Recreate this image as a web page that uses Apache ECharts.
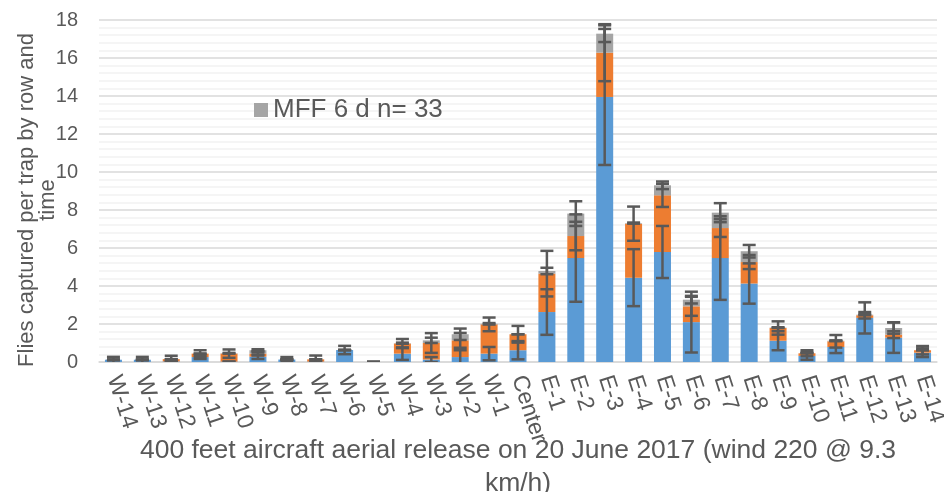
<!DOCTYPE html>
<html>
<head>
<meta charset="utf-8">
<script src="https://cdn.jsdelivr.net/npm/echarts@6/dist/echarts.min.js"></script>
<style>
  html, body { margin: 0; padding: 0; background: #fff; }
  #chart { width: 944px; height: 492px; }
</style>
</head>
<body>
<div id="chart"></div>
<script>
// trap rows, west to east
var categories = ['W-14','W-13','W-12','W-11','W-10','W-9','W-8','W-7','W-6','W-5','W-4','W-3','W-2','W-1','Center',
  'E-1','E-2','E-3','E-4','E-5','E-6','E-7','E-8','E-9','E-10','E-11','E-12','E-13','E-14'];

// stacked values (blue, orange, gray)
var blueVals   = [0.12,0.12,0.03,0.26,0.02,0.28,0.13,0.02,0.63,0,0.44,0.13,0.26,0.44,0.62,
  2.63,5.47,13.95,4.44,5.79,2.10,5.47,4.13,1.12,0.32,0.79,2.32,1.28,0.49];
var orangeVals = [0,0,0.12,0.18,0.42,0.16,0,0.12,0,0,0.53,0.87,0.88,1.54,0.84,
  2.02,1.16,2.33,2.84,2.98,0.83,1.58,1.13,0.67,0.14,0.30,0.14,0.16,0.13];
var grayVals   = [0,0,0,0,0.02,0.18,0,0,0,0,0.02,0.14,0.32,0.03,0,
  0.14,1.18,1.00,0.03,0.53,0.35,0.81,0.57,0.02,0,0.03,0.03,0.35,0];

// error bar half-widths for each series
var blueErr   = [0.15,0.15,0,0.10,0,0.12,0.13,0,0.22,0,0.33,0.13,0.36,0.35,0.48,
  1.20,2.30,3.58,1.50,1.37,1.60,2.20,1.06,0.50,0.20,0.32,0.82,0.80,0.23];
var orangeErr = [0,0,0.18,0.18,0.22,0.10,0,0.20,0,0,0.24,0.52,0.39,0.36,0.44,
  1.20,0.75,1.50,0.90,0.61,0.50,0.47,0.37,0.35,0.16,0.33,0.17,0.18,0.22];
var grayErr   = [0,0,0,0,0.02,0.05,0,0,0,0,0.03,0.14,0.30,0.04,0,
  0.17,0.65,0.44,0.03,0.20,0.20,0.50,0.33,0.02,0,0.02,0.03,0.30,0];

var textColor = '#595959';
var font = 'Liberation Sans, Arial, sans-serif';

// error bars sit on top of each stacked segment
function errData(level, errs) {
  return categories.map(function (c, i) {
    var top = blueVals[i];
    if (level > 0) top += orangeVals[i];
    if (level > 1) top += grayVals[i];
    return [i, top, errs[i]];
  });
}

function renderErr(params, api) {
  var i = api.value(0), c = api.value(1), e = api.value(2);
  var hi = api.coord([i, c + e]);
  var lo = api.coord([i, c - e]);
  var half = 6.5;
  var st = { stroke: '#595959', lineWidth: 2.5 };
  return {
    type: 'group',
    children: [
      { type: 'line', shape: { x1: hi[0], y1: hi[1], x2: lo[0], y2: lo[1] }, style: st },
      { type: 'line', shape: { x1: hi[0] - half, y1: hi[1], x2: hi[0] + half, y2: hi[1] }, style: st },
      { type: 'line', shape: { x1: lo[0] - half, y1: lo[1], x2: lo[0] + half, y2: lo[1] }, style: st }
    ]
  };
}

var chart = echarts.init(document.getElementById('chart'));

var option = {
  animation: false,
  textStyle: { fontFamily: font },
  grid: { left: 99, right: 7, top: 20, bottom: 130, outerBoundsMode: 'none', containLabel: false },
  legend: {
    data: ['MFF 6 d n= 33'],
    left: 249, top: 92,
    icon: 'rect', itemWidth: 14, itemHeight: 14, itemGap: 6,
    textStyle: { color: textColor, fontSize: 26, fontFamily: font }
  },
  xAxis: {
    type: 'category',
    data: categories,
    axisLine: { lineStyle: { color: '#D9D9D9', width: 1.5 } },
    axisTick: { show: false },
    axisLabel: { rotate: -72, margin: 14, color: textColor, fontSize: 23, interval: 0 },
    name: '400 feet aircraft aerial release on 20 June 2017 (wind 220 @ 9.3\nkm/h)',
    nameLocation: 'middle',
    nameMoveOverlap: false,
    nameGap: 72,
    nameTextStyle: { color: textColor, fontSize: 26.5, lineHeight: 33 }
  },
  yAxis: {
    type: 'value',
    min: 0, max: 18, interval: 2,
    axisLine: { show: false },
    axisTick: { show: false },
    axisLabel: { color: textColor, fontSize: 20, margin: 21 },
    splitLine: { lineStyle: { color: '#D9D9D9', width: 1.5 } },
    minorTick: { show: false, splitNumber: 5 },
    minorSplitLine: { show: true, lineStyle: { color: '#F2F2F2', width: 1.5 } },
    name: 'Flies captured per trap by row and\ntime',
    nameLocation: 'middle',
    nameMoveOverlap: false,
    nameRotate: 90,
    nameGap: 41,
    nameTextStyle: { color: textColor, fontSize: 22, lineHeight: 21, padding: [0, 18, 0, 0] }
  },
  series: [
    { name: 'Series 1', type: 'bar', stack: 'a', barWidth: 17, data: blueVals,
      itemStyle: { color: '#5B9BD5' } },
    { name: 'Series 2', type: 'bar', stack: 'a', barWidth: 17, data: orangeVals,
      itemStyle: { color: '#ED7D31' } },
    { name: 'MFF 6 d n= 33', type: 'bar', stack: 'a', barWidth: 17, data: grayVals,
      itemStyle: { color: '#A5A5A5' } },
    { type: 'custom', renderItem: renderErr, data: errData(0, blueErr), z: 10, clip: true },
    { type: 'custom', renderItem: renderErr, data: errData(1, orangeErr), z: 10, clip: true },
    { type: 'custom', renderItem: renderErr, data: errData(2, grayErr), z: 10, clip: true }
  ]
};

chart.setOption(option);
window.addEventListener('resize', function () {
  chart.resize();
});
</script>
</body>
</html>
